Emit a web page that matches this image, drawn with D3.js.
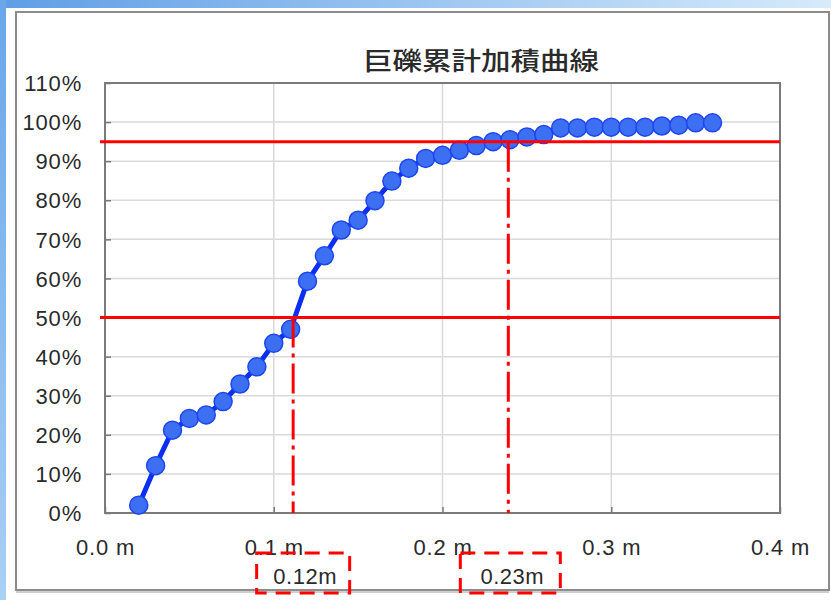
<!DOCTYPE html>
<html><head><meta charset="utf-8">
<script src="https://cdn.jsdelivr.net/npm/d3@7"></script>
<style>
html,body{margin:0;padding:0;background:#fff;}
svg{display:block;}
text{font-family:"Liberation Sans",Arial,sans-serif;fill:#222;}
</style></head>
<body>
<svg id="c" width="831" height="600"></svg>
<script>
// ---- data ----
const title = "巨礫累計加積曲線";
const sizes = [0.02,0.03,0.04,0.05,0.06,0.07,0.08,0.09,0.10,0.11,0.12,0.13,0.14,0.15,0.16,0.17,0.18,0.19,0.20,0.21,0.22,0.23,0.24,0.25,0.26,0.27,0.28,0.29,0.30,0.31,0.32,0.33,0.34,0.35,0.36];
const cumPct = [2.0,12.1,21.2,24.2,25.1,28.5,33.0,37.4,43.4,47.0,59.3,65.8,72.4,74.9,79.9,84.9,88.2,90.7,91.5,92.8,94.0,95.0,95.5,96.2,96.8,98.5,98.5,98.7,98.7,98.7,98.7,99.0,99.2,99.8,99.8];
const xTicks = [0.0,0.1,0.2,0.3,0.4];
const yTicks = [0,10,20,30,40,50,60,70,80,90,100,110];
const refPct = [50, 95];
const refSize = [0.1115, 0.239];
const refLabels = ["0.12m", "0.23m"];

// ---- layout ----
const svg = d3.select("#c");
const L = 105, R = 780, T = 83, B = 513;
const x = d3.scaleLinear().domain([0, 0.4]).range([L, R]);
const y = d3.scaleLinear().domain([0, 110]).range([B, T]);

// window background
const defs = svg.append("defs");
const g1 = defs.append("linearGradient").attr("id","topg").attr("x1","0").attr("x2","1");
g1.append("stop").attr("offset","0").attr("stop-color","#5f9ee6");
g1.append("stop").attr("offset","1").attr("stop-color","#d6ebfb");
const g2 = defs.append("linearGradient").attr("id","leftg").attr("x1","0").attr("x2","0").attr("y1","0").attr("y2","1");
g2.append("stop").attr("offset","0").attr("stop-color","#6aa6ea");
g2.append("stop").attr("offset","1").attr("stop-color","#a9d0f5");
svg.append("rect").attr("x",0).attr("y",0).attr("width",831).attr("height",8).attr("fill","url(#topg)");
svg.append("rect").attr("x",0).attr("y",0).attr("width",6).attr("height",600).attr("fill","url(#leftg)");
svg.append("rect").attr("x",16).attr("y",12).attr("width",813).attr("height",578)
  .attr("fill","#fff").attr("stroke","#8c8c8c").attr("stroke-width",2);
svg.append("line").attr("x1",16).attr("x2",829).attr("y1",592).attr("y2",592).attr("stroke","#cfcfcf").attr("stroke-width",2);

// title
svg.append("text").attr("x", 481).attr("y", 70).attr("text-anchor","middle")
  .attr("textLength", 236).attr("lengthAdjust","spacingAndGlyphs")
  .style("font-family","'Noto Sans CJK JP','Noto Sans CJK SC',sans-serif")
  .style("font-size","25px").style("font-weight","500").style("fill","#2a2a2a").text(title);

// gridlines
svg.append("g").selectAll("line").data(yTicks.filter(d => d > 0 && d < 110)).join("line")
  .attr("x1", L).attr("x2", R).attr("y1", d => y(d)).attr("y2", d => y(d))
  .attr("stroke","#d9d9d9").attr("stroke-width",1.5);
svg.append("g").selectAll("line").data(xTicks.filter(d => d > 0 && d < 0.4)).join("line")
  .attr("y1", T).attr("y2", B).attr("x1", d => x(d)).attr("x2", d => x(d))
  .attr("stroke","#d9d9d9").attr("stroke-width",1.5);

// axes (inside ticks)
const yAxis = svg.append("g").attr("transform",`translate(${L},0)`)
  .call(d3.axisLeft(y).tickValues(yTicks).tickFormat(d => d + "%").tickSizeInner(-6).tickSizeOuter(0).tickPadding(23));
const xAxis = svg.append("g").attr("transform",`translate(0,${B})`)
  .call(d3.axisBottom(x).tickValues(xTicks).tickFormat(d => d.toFixed(1) + " m").tickSizeInner(-6).tickSizeOuter(0).tickPadding(26));
[yAxis, xAxis].forEach(a => {
  a.select(".domain").remove();
  a.selectAll(".tick line").attr("stroke","#777").attr("stroke-width",1.5);
  a.selectAll("text").style("font-size","22px").style("fill","#2a2a2a")
    .style("font-family","'Liberation Sans',Arial,sans-serif").attr("letter-spacing","0.8px");
});
yAxis.selectAll("text").attr("dy","0.35em");
xAxis.selectAll("text").attr("dy","0.71em");

// plot border
svg.append("rect").attr("x",L).attr("y",T).attr("width",R-L).attr("height",B-T)
  .attr("fill","none").attr("stroke","#7a7a7a").attr("stroke-width",2);

// data line & markers
const pts = sizes.map((s,i) => [s, cumPct[i]]);
svg.append("path").datum(pts)
  .attr("d", d3.line().x(d => x(d[0])).y(d => y(d[1])))
  .attr("fill","none").attr("stroke","#0a2ef2").attr("stroke-width",5).attr("stroke-linejoin","round");
svg.append("g").selectAll("circle").data(pts).join("circle")
  .attr("cx", d => x(d[0])).attr("cy", d => y(d[1])).attr("r", 9)
  .attr("fill","#3d6ff2").attr("stroke","#1d45f0").attr("stroke-width",1.5);

// reference lines
svg.append("g").selectAll("line").data(refPct).join("line")
  .attr("x1", L - 5).attr("x2", R).attr("y1", d => y(d)).attr("y2", d => y(d))
  .attr("stroke","#ff0000").attr("stroke-width",3);
svg.append("g").selectAll("line").data(refSize).join("line")
  .attr("x1", d => x(d)).attr("x2", d => x(d))
  .attr("y1", (d,i) => y(refPct[i])).attr("y2", B)
  .attr("stroke","#ff0000").attr("stroke-width",3).attr("stroke-dasharray","30 6 4 6");

// label boxes
const boxDx = [10, 2], boxW = [93, 100];
const bg = svg.append("g").selectAll("g").data(refLabels).join("g")
  .attr("transform", (d,i) => `translate(${x(refSize[i]) + boxDx[i]},0)`);
bg.append("rect").attr("x", (d,i) => -boxW[i]/2).attr("y", 553).attr("width", (d,i) => boxW[i]).attr("height", 40)
  .attr("fill","none").attr("stroke","#ff0000").attr("stroke-width",3).attr("stroke-dasharray","15 9");
bg.append("text").attr("x", 2).attr("y", 584).attr("text-anchor","middle")
  .style("font-size","22px").style("fill","#2a2a2a").attr("letter-spacing","0.5px").text(d => d);
</script>
</body></html>
